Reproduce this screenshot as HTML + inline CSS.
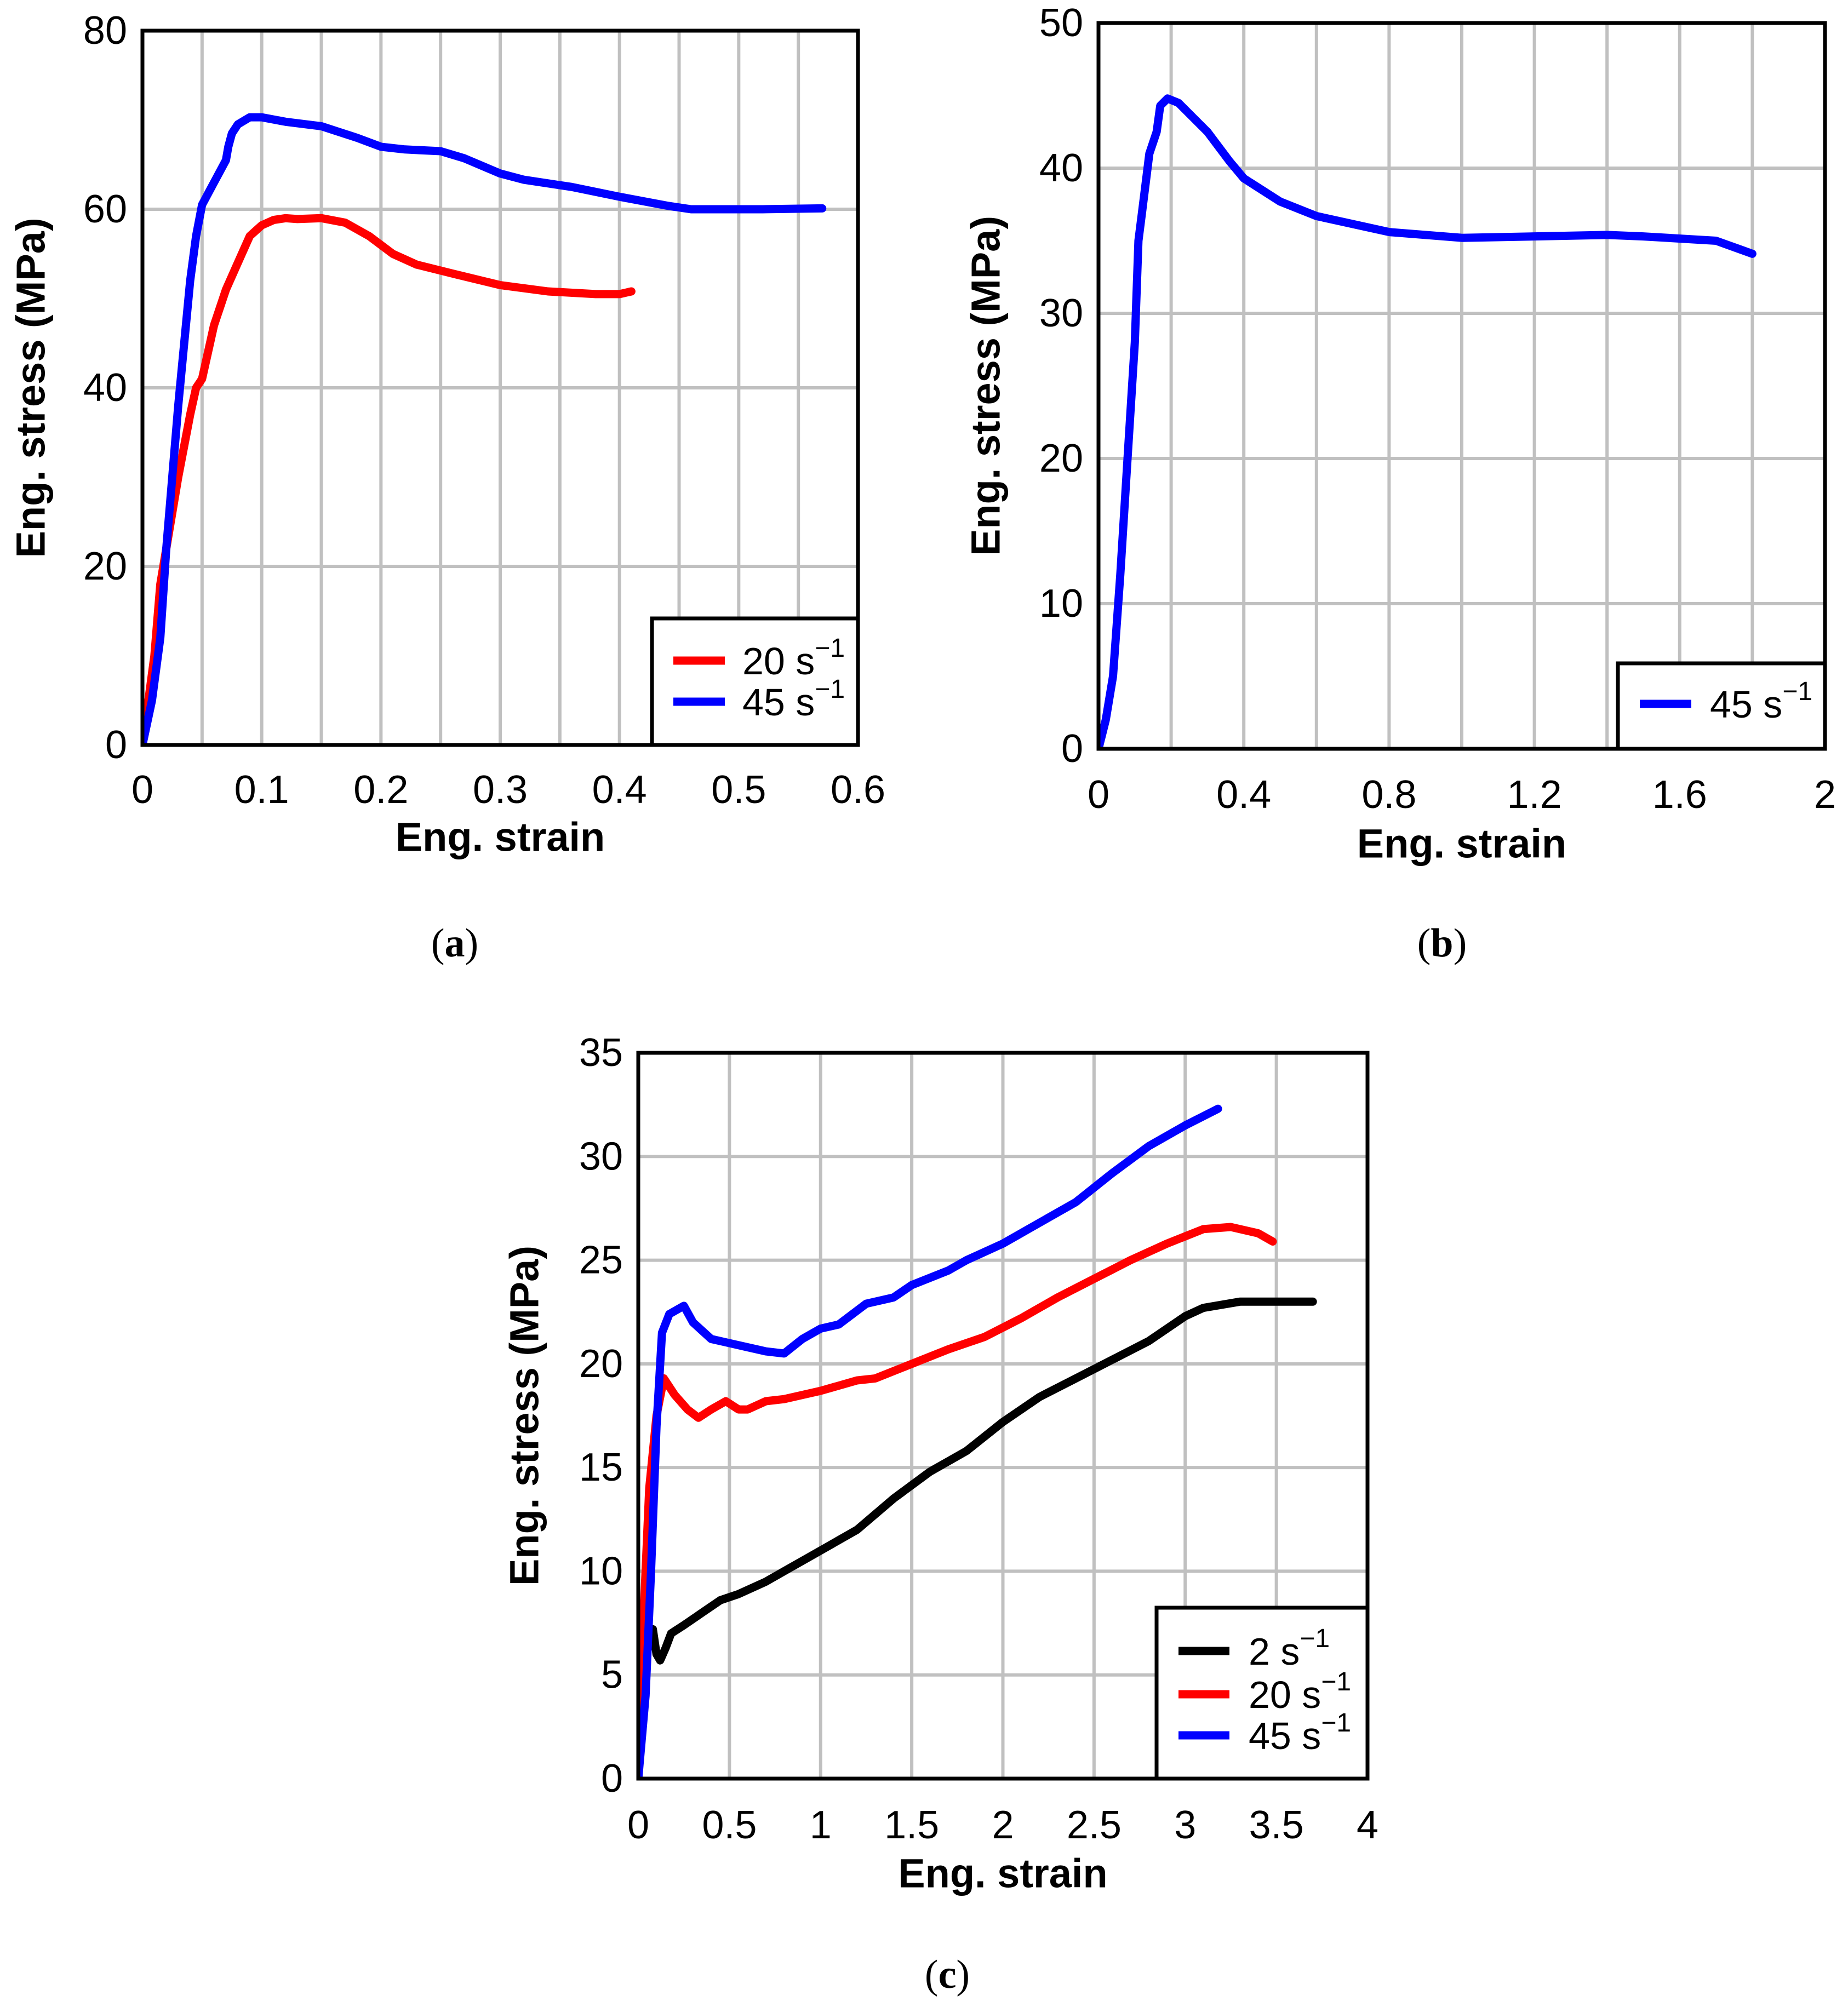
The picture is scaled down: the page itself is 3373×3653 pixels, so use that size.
<!DOCTYPE html>
<html><head><meta charset="utf-8"><style>
html,body{margin:0;padding:0;background:#fff;}
svg{display:block;}
text{font-family:"Liberation Sans",Arial,sans-serif;fill:#000;}
</style></head><body>
<svg id="fig" width="3373" height="3653" viewBox="0 0 3373 3653" xmlns="http://www.w3.org/2000/svg">
<rect width="3373" height="3653" fill="#fff"/>
</svg>
<script>
// ---- data (a) ----
const aStrain20 = [0,0.005,0.01,0.015,0.02,0.03,0.04,0.045,0.05,0.055,0.06,0.07,0.08,0.09,0.1,0.11,0.12,0.13,0.15,0.17,0.19,0.21,0.23,0.26,0.3,0.34,0.38,0.4,0.41];
const aStress20 = [0,5,10,18,22,30,37,40,41,44,47,51,54,57,58.2,58.8,59,58.9,59,58.5,57,55,53.8,52.8,51.5,50.8,50.5,50.5,50.8];
const aStrain45 = [0,0.008,0.015,0.02,0.025,0.03,0.035,0.04,0.045,0.05,0.06,0.07,0.072,0.075,0.08,0.09,0.1,0.12,0.15,0.18,0.2,0.22,0.25,0.27,0.3,0.32,0.36,0.4,0.44,0.46,0.52,0.57];
const aStress45 = [0,5,12,22,30,38,45,52,57,60.5,63,65.5,67,68.5,69.5,70.3,70.3,69.8,69.3,68,67,66.7,66.5,65.7,64,63.3,62.5,61.4,60.4,60,60,60.1];
const aXTicks = ["0","0.1","0.2","0.3","0.4","0.5","0.6"];
const aYTicks = ["0","20","40","60","80"];
// ---- data (b) ----
const bStrain45 = [0,0.02,0.04,0.06,0.08,0.1,0.11,0.12,0.14,0.16,0.17,0.19,0.22,0.3,0.36,0.4,0.5,0.6,0.8,1.0,1.2,1.4,1.5,1.7,1.8];
const bStress45 = [0,2,5,12,20,28,35,37,41,42.5,44.3,44.8,44.5,42.5,40.5,39.3,37.7,36.7,35.6,35.2,35.3,35.4,35.3,35,34.1];
const bXTicks = ["0","0.4","0.8","1.2","1.6","2"];
const bYTicks = ["0","10","20","30","40","50"];
// ---- data (c) ----
const cStrain2 = [0,0.02,0.05,0.08,0.1,0.12,0.15,0.18,0.25,0.35,0.45,0.55,0.7,0.8,1,1.2,1.4,1.6,1.8,2,2.2,2.4,2.6,2.8,3,3.1,3.3,3.7];
const cStress2 = [0,3,6.5,7.2,6,5.7,6.3,7,7.4,8,8.6,8.9,9.5,10,11,12,13.5,14.8,15.8,17.2,18.4,19.3,20.2,21.1,22.3,22.7,23,23];
const cStrain20 = [0,0.03,0.06,0.1,0.14,0.2,0.27,0.33,0.4,0.48,0.55,0.6,0.7,0.8,1,1.2,1.3,1.5,1.7,1.9,2.1,2.3,2.5,2.7,2.9,3.1,3.25,3.4,3.48];
const cStress20 = [0,8,14,17.5,19.3,18.5,17.8,17.4,17.8,18.2,17.8,17.8,18.2,18.3,18.7,19.2,19.3,20,20.7,21.3,22.2,23.2,24.1,25,25.8,26.5,26.6,26.3,25.9];
const cStrain45 = [0,0.04,0.07,0.1,0.13,0.17,0.25,0.3,0.4,0.5,0.6,0.7,0.8,0.9,1,1.1,1.25,1.4,1.5,1.7,1.8,2,2.2,2.4,2.6,2.8,3,3.18];
const cStress45 = [0,4,10,17,21.5,22.4,22.8,22,21.2,21,20.8,20.6,20.5,21.2,21.7,21.9,22.9,23.2,23.8,24.5,25,25.8,26.8,27.8,29.2,30.5,31.5,32.3];
const cXTicks = ["0","0.5","1","1.5","2","2.5","3","3.5","4"];
const cYTicks = ["0","5","10","15","20","25","30","35"];

const NS="http://www.w3.org/2000/svg";
const svg=document.getElementById('fig');
function mk(tag,attrs,parent){const e=document.createElementNS(NS,tag);for(const k in attrs)e.setAttribute(k,attrs[k]);(parent||svg).appendChild(e);return e;}

function chart(o){
  const g=mk('g',{});
  
  
  const xmax=parseFloat(o.xt[o.xt.length-1]), ymax=parseFloat(o.yt[o.yt.length-1]);
  const X=v=>o.L+(v/xmax)*(o.R-o.L), Y=v=>o.B-(v/ymax)*(o.B-o.T);
  const grid=mk('g',{},g);
  
  
  const nx=(o.xt.length-1)*o.gdiv;
  for(let i=1;i<nx;i++){const v=xmax*i/nx;mk('line',{x1:X(v),x2:X(v),y1:o.T,y2:o.B,stroke:'#c0c0c0','stroke-width':6},grid);}
  for(let i=1;i<o.yt.length-1;i++){const v=parseFloat(o.yt[i]);mk('line',{x1:o.L,x2:o.R,y1:Y(v),y2:Y(v),stroke:'#c0c0c0','stroke-width':6},grid);}
  o.xt.forEach(t=>{const e=mk('text',{x:X(parseFloat(t)),y:o.xl,'font-size':72,'text-anchor':'middle','dominant-baseline':'central'},g);e.textContent=t;
    
    });
  o.yt.forEach(t=>{const e=mk('text',{x:o.L-28,y:Y(parseFloat(t)),'font-size':72,'text-anchor':'end','dominant-baseline':'central'},g);e.textContent=t;
    
    });
  const xt=mk('text',{x:(o.L+o.R)/2,y:o.xtl,'font-size':74,'font-weight':'bold','text-anchor':'middle','dominant-baseline':'central'},g);xt.textContent='Eng. strain';
  
  
  const yc=(o.T+o.B)/2;
  const yt=mk('text',{x:o.ytl,y:yc,'font-size':74,'font-weight':'bold','text-anchor':'middle','dominant-baseline':'central',transform:`rotate(-90 ${o.ytl} ${yc})`},g);yt.textContent='Eng. stress (MPa)';
  
  
  const clip=mk('clipPath',{id:'clip-'+o.id},g);mk('rect',{x:o.L,y:o.T,width:o.R-o.L,height:o.B-o.T},clip);
  o.series.forEach(s=>{const d=s.x.map((v,i)=>(i?'L':'M')+X(v).toFixed(1)+' '+Y(s.y[i]).toFixed(1)).join(' ');
    const p=mk('path',{d:d,fill:'none',stroke:s.c,'stroke-width':15,'stroke-linejoin':'round','stroke-linecap':'round','clip-path':'url(#clip-'+o.id+')'},g);
    
    });
  mk('rect',{x:o.L,y:o.T,width:o.R-o.L,height:o.B-o.T,fill:'none',stroke:'#000','stroke-width':7},g);
  const lg=mk('g',{},g);
  
  
  const lg0=o.leg;
  mk('rect',{x:lg0.x,y:lg0.y,width:o.R-lg0.x,height:o.B-lg0.y,fill:'#fff',stroke:'#000','stroke-width':7},lg);
  o.series.forEach((s,i)=>{const yy=lg0.e[i];
    mk('line',{x1:lg0.lx1,x2:lg0.lx2,y1:yy,y2:yy,stroke:s.c,'stroke-width':15},lg);
    const t=mk('text',{x:lg0.tx,y:yy+25,'font-size':70},lg);
    t.innerHTML=s.n+' s<tspan dy="-32" font-size="48">\u22121</tspan>';
    
    });
  const cap=mk('text',{x:o.cap[0],y:o.cap[1],'font-size':74,'text-anchor':'middle','dominant-baseline':'central',style:'font-family:"Liberation Serif",serif'},g);
  cap.innerHTML='(<tspan font-weight="bold">'+o.id+'</tspan>)';
  
  
}
chart({id:'a',gdiv:2,L:260,R:1566,T:56,B:1360,xt:aXTicks,yt:aYTicks,xl:1442,xtl:1528,ytl:56,cap:[830,1722],
  leg:{x:1190,y:1129,lx1:1229,lx2:1323,tx:1355,e:[1206,1281]},
  series:[{n:'20',c:'#ff0000',x:aStrain20,y:aStress20},{n:'45',c:'#0000ff',x:aStrain45,y:aStress45}]});
chart({id:'b',gdiv:2,L:2005,R:3331,T:42,B:1367,xt:bXTicks,yt:bYTicks,xl:1451,xtl:1540,ytl:1799,cap:[2632,1722],
  leg:{x:2953,y:1211,lx1:2993,lx2:3087,tx:3121,e:[1285]},
  series:[{n:'45',c:'#0000ff',x:bStrain45,y:bStress45}]});
chart({id:'c',gdiv:1,L:1165,R:2496,T:1922,B:3247,xt:cXTicks,yt:cYTicks,xl:3332,xtl:3420,ytl:957,cap:[1729,3605],
  leg:{x:2111,y:2935,lx1:2151,lx2:2244,tx:2279,e:[3014,3093,3168]},
  series:[{n:'2',c:'#000000',x:cStrain2,y:cStress2},{n:'20',c:'#ff0000',x:cStrain20,y:cStress20},{n:'45',c:'#0000ff',x:cStrain45,y:cStress45}]});
</script>
</body></html>
